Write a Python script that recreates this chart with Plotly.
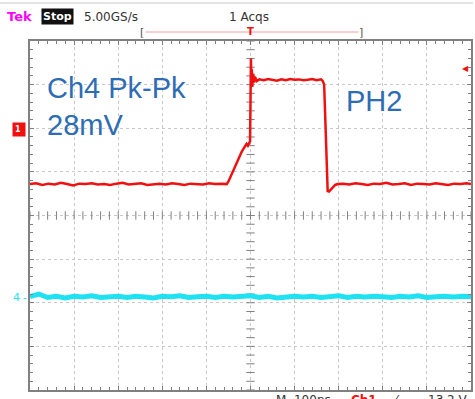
import numpy as np
import plotly.graph_objects as go

# Ch1 (red) trace: time in ns, level in divisions
red_t = [-500, -486, -472, -458, -444, -430, -416, -402, -388, -374, -360, -346, -332,
         -318, -304, -290, -276, -262, -248, -234, -220, -206, -192, -178, -164, -150,
         -136, -122, -108, -94, -80, -66, -54,
         -50, -44, -38, -32, -26, -20, -14, -9, -6, -3, -1,
         0, 1, 2, 3, 4, 6, 8, 10, 14,
         20, 30, 40, 50, 60, 70, 80, 90, 100, 110, 120, 130, 140, 150, 160,
         164, 167, 169, 171, 173, 175, 178, 182, 187, 192, 198,
         210, 224, 238, 252, 266, 280, 294, 308, 322, 336, 350, 364, 378, 392, 406,
         420, 434, 448, 462, 476, 490, 500]
red_v = [0.72, 0.74, 0.70, 0.73, 0.71, 0.75, 0.72, 0.69, 0.73, 0.72, 0.74, 0.71, 0.72,
         0.70, 0.73, 0.75, 0.71, 0.72, 0.74, 0.70, 0.72, 0.73, 0.71, 0.74, 0.72, 0.70,
         0.73, 0.72, 0.71, 0.74, 0.72, 0.73, 0.72,
         0.78, 0.92, 1.08, 1.22, 1.34, 1.46, 1.56, 1.64, 1.60, 1.68, 1.70,
         2.60, 3.60, 3.00, 3.35, 2.95, 3.25, 3.05, 3.18, 3.08,
         3.12, 3.10, 3.13, 3.11, 3.09, 3.12, 3.10, 3.13, 3.11, 3.12, 3.10, 3.11, 3.13, 3.10, 3.12,
         3.08, 3.00, 2.40, 1.60, 0.90, 0.56, 0.55, 0.60, 0.66, 0.70, 0.72,
         0.73, 0.71, 0.74, 0.72, 0.70, 0.73, 0.72, 0.75, 0.71, 0.72, 0.74, 0.70, 0.73, 0.72,
         0.71, 0.74, 0.72, 0.70, 0.73, 0.72, 0.74, 0.72]

# Ch4 (cyan) trace
cyan_t = list(range(-500, 501, 20))
cyan_v = [-1.86, -1.80, -1.88, -1.85, -1.89, -1.85, -1.87, -1.84, -1.88, -1.86, -1.85,
          -1.88, -1.85, -1.87, -1.89, -1.85, -1.86, -1.84, -1.88, -1.86, -1.85, -1.88,
          -1.85, -1.87, -1.86, -1.84, -1.88, -1.85, -1.89, -1.86, -1.85, -1.87, -1.85,
          -1.88, -1.86, -1.84, -1.88, -1.85, -1.87, -1.85, -1.86, -1.88, -1.85, -1.87,
          -1.84, -1.88, -1.86, -1.85, -1.87, -1.85, -1.86]

ch1_marker_level = 1.96
ch4_marker_level = -1.88
trigger_level = 3.38

W_FIG, H_FIG = 475, 399
L, R, T, B = 30, 2, 41, 9
PW, PH = W_FIG - L - R, H_FIG - T - B
Y_MID = T + PH / 2


def px(x):
    return (x - L) / PW


def py(y):
    return (T + PH - y) / PH


def level_px(level):
    return Y_MID - level * PH / 8


GRID = "#c8c8c8"
FRAME = "#808080"
RED = "#f01010"
CYAN = "#1ee2f2"
BLUE = "#2e6db4"

fig = go.Figure()

# graticule centre cross ticks
fig.add_trace(go.Scatter(x=np.arange(-500, 501, 20), y=np.zeros(51), mode="markers",
                         marker=dict(symbol="line-ns", size=6, line=dict(color=FRAME, width=1)),
                         hoverinfo="skip", showlegend=False))
fig.add_trace(go.Scatter(x=np.zeros(41), y=np.round(np.arange(-4, 4.001, 0.2), 2), mode="markers",
                         marker=dict(symbol="line-ew", size=6, line=dict(color=FRAME, width=1)),
                         hoverinfo="skip", showlegend=False))

fig.add_trace(go.Scatter(x=cyan_t, y=cyan_v, mode="lines",
                         line=dict(color=CYAN, width=5), showlegend=False))
fig.add_trace(go.Scatter(x=red_t, y=red_v, mode="lines",
                         line=dict(color=RED, width=2.5), showlegend=False))

axis_common = dict(showgrid=True, gridcolor=GRID, griddash="dot", gridwidth=1,
                   zeroline=False, showline=True, linecolor=FRAME, linewidth=1.5,
                   mirror="ticks", ticks="inside", ticklen=4, tickcolor=FRAME,
                   showticklabels=False, fixedrange=True)
fig.update_xaxes(range=[-500, 500], dtick=100,
                 minor=dict(dtick=20, ticks="inside", ticklen=3, tickcolor=FRAME, showgrid=False),
                 **axis_common)
fig.update_yaxes(range=[-4, 4], dtick=1,
                 minor=dict(dtick=0.2, ticks="inside", ticklen=3, tickcolor=FRAME, showgrid=False),
                 **axis_common)

ann = []


def text(x, y, s, size, color, family="DejaVu Sans", xanchor="left", yanchor="middle", **kw):
    ann.append(dict(x=px(x), y=py(y), xref="paper", yref="paper", text=s, showarrow=False,
                    xanchor=xanchor, yanchor=yanchor,
                    font=dict(size=size, color=color, family=family), **kw))


# status bar
text(5, 17, "<b>Tek</b>", 13, "#ff00ff")
text(58, 17, "<b>Stop</b>", 11, "#ffffff", xanchor="center", bgcolor="#111111", borderpad=1)
text(82, 17, "5.00GS/s", 12, "#333333")
text(228, 17, "1 Acqs", 12, "#333333")
text(143, 32, "[", 11, "#555555", xanchor="center")
text(362, 32, "]", 11, "#555555", xanchor="center")
text(251, 31, "<b>T</b>", 10, RED, xanchor="center")

# overlay labels
text(45, 88, "Ch4 Pk-Pk", 29, BLUE, family="Liberation Sans")
text(45, 125, "28mV", 29, BLUE, family="Liberation Sans")
text(345, 101, "PH2", 29, BLUE, family="Liberation Sans")

# channel and trigger markers
text(19, level_px(ch1_marker_level), "<b>1 </b>", 8, "#ffffff",
     xanchor="center", bgcolor=RED, borderpad=2)
text(16, level_px(ch4_marker_level), "4", 11, CYAN, xanchor="center")
text(25, level_px(ch4_marker_level), "-", 11, CYAN, xanchor="center")
text(467, level_px(trigger_level), "◀", 8, RED, xanchor="center")

# bottom readout
text(275, 391, "M  100ns", 12, "#333333", yanchor="top")
text(350, 391, "<b>Ch1</b>", 12, RED, yanchor="top")
text(392, 391, "⁄", 12, "#333333", yanchor="top")
text(428, 391, "13.2 V", 12, "#333333", yanchor="top")

shapes = [
    dict(type="line", xref="paper", yref="paper", x0=px(0), x1=px(475), y0=py(3), y1=py(3),
         line=dict(color="#c8c8c8", width=1)),
    dict(type="line", xref="paper", yref="paper", x0=px(146), x1=px(360), y0=py(32), y1=py(32),
         line=dict(color="#f2a0a0", width=1)),
]

fig.update_layout(width=W_FIG, height=H_FIG, margin=dict(l=L, r=R, t=T, b=B),
                  paper_bgcolor="white", plot_bgcolor="white",
                  annotations=ann, shapes=shapes, showlegend=False)

fig.write_html("out.html", config={"displayModeBar": False})
